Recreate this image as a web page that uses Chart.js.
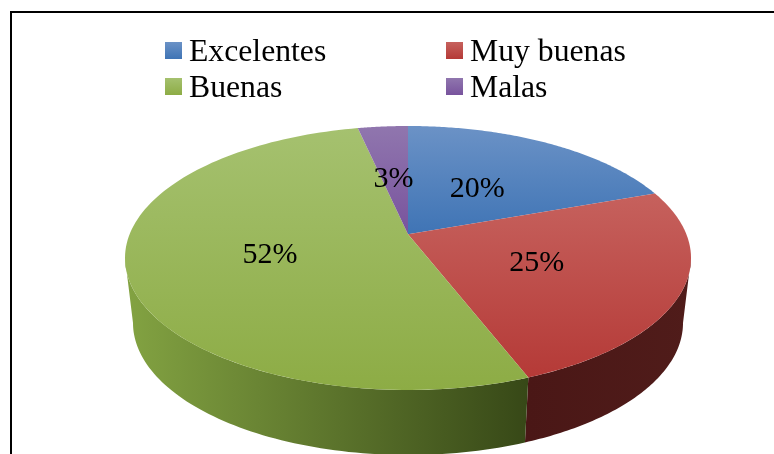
<!DOCTYPE html>
<html>
<head>
<meta charset="utf-8">
<script src="https://cdn.jsdelivr.net/npm/chart.js@4"></script>
<style>
    html, body { margin: 0; padding: 0; background: #fff; }
    canvas { display: block; }
</style>
</head>
<body>
<canvas id="chart" width="774" height="454"></canvas>
<script>
const categories = ["Excelentes", "Muy buenas", "Buenas", "Malas"]
const values = [19.5, 24.6, 52.4, 3.4]

// top face gradient, light to dark
const topColors = [
    ["#6b92c6", "#3f74b5"],
    ["#c6615d", "#b53a37"],
    ["#a5c16f", "#8dac45"],
    ["#9076ae", "#78539d"]
]
// side wall gradient, left to right
const wallColors = [
    ["#27486f", "#27486f"],
    ["#4a1716", "#501c1a"],
    ["#83a342", "#374817"],
    ["#4a3361", "#4a3361"]
]

// ellipse of the top face and of the bottom edge
const pie = { cx: 408, top: 258, bottom: 323, rxTop: 283, rxBottom: 275, ry: 132, tilt: -0.18 }
const labelNudge = [-4, 0, -4, -1]

// maps an arc angle to the tilted face, so the apex sits behind the ellipse centre
function project(angle, r, cy, rx) {
    const u = r * Math.cos(angle)
    const v = r * Math.sin(angle)
    const d = 1 + pie.tilt * v
    const a = rx * Math.sqrt(1 - pie.tilt * pie.tilt)
    return {
        x: pie.cx + a * u / d,
        y: cy + pie.ry * (v + pie.tilt) / d
    }
}

function fadeY(ctx, c, y1, y2) {
    const g = ctx.createLinearGradient(0, y1, 0, y2)
    g.addColorStop(0, c[0])
    g.addColorStop(1, c[1])
    return g
}

function drawWall(ctx, arc, colors) {
    const limit = Math.asin(-pie.tilt)
    const start = Math.max(arc.startAngle, limit)
    const end = Math.min(arc.endAngle, Math.PI - limit)
    if (end <= start) return

    ctx.beginPath()
    for (let i = 0; i <= 80; i++) {
        const p = project(start + (end - start) * i / 80, 1, pie.top, pie.rxTop)
        ctx.lineTo(p.x, p.y)
    }
    for (let i = 80; i >= 0; i--) {
        const p = project(start + (end - start) * i / 80, 1, pie.bottom, pie.rxBottom)
        ctx.lineTo(p.x, p.y)
    }
    ctx.closePath()

    const a = project(start, 1, pie.top, pie.rxTop).x
    const b = project(end, 1, pie.top, pie.rxTop).x
    const g = ctx.createLinearGradient(Math.min(a, b), 0, Math.max(a, b), 0)
    g.addColorStop(0, colors[0])
    g.addColorStop(1, colors[1])
    ctx.fillStyle = g
    ctx.fill()
}

function drawTop(ctx, arc, colors) {
    const apex = project(0, 0, pie.top, pie.rxTop)
    let minY = apex.y
    let maxY = apex.y

    ctx.beginPath()
    ctx.moveTo(apex.x, apex.y)
    for (let i = 0; i <= 120; i++) {
        const p = project(arc.startAngle + (arc.endAngle - arc.startAngle) * i / 120, 1, pie.top, pie.rxTop)
        ctx.lineTo(p.x, p.y)
        minY = Math.min(minY, p.y)
        maxY = Math.max(maxY, p.y)
    }
    ctx.closePath()
    ctx.fillStyle = fadeY(ctx, colors, minY, maxY)
    ctx.fill()
}

function drawLegend(ctx) {
    const columns = [165, 446]
    const rows = [42, 78]

    ctx.font = "31.7px 'Liberation Serif'"
    ctx.textAlign = "left"
    ctx.textBaseline = "alphabetic"

    categories.forEach((name, i) => {
        const x = columns[i % 2]
        const y = rows[Math.floor(i / 2)]
        ctx.fillStyle = fadeY(ctx, topColors[i], y, y + 17)
        ctx.fillRect(x, y, 17, 17)
        ctx.fillStyle = "#000"
        ctx.fillText(name, x + 24, y + 19)
    })
}

const pie3d = {
    id: "pie3d",
    beforeDatasetsDraw(chart) {
        const ctx = chart.ctx
        const arcs = chart.getDatasetMeta(0).data

        ctx.save()

        ctx.fillStyle = "#000"
        ctx.fillRect(10, 11, 764, 2)
        ctx.fillRect(10, 11, 2, 443)

        arcs.forEach((arc, i) => drawWall(ctx, arc, wallColors[i]))
        arcs.forEach((arc, i) => drawTop(ctx, arc, topColors[i]))

        ctx.font = "30px 'Liberation Serif'"
        ctx.textAlign = "center"
        ctx.textBaseline = "alphabetic"
        ctx.fillStyle = "#000"
        arcs.forEach((arc, i) => {
            const p = project((arc.startAngle + arc.endAngle) / 2, 0.49, pie.top, pie.rxTop)
            ctx.fillText(Math.round(values[i]) + "%", p.x + labelNudge[i], p.y + 10)
        })

        drawLegend(ctx)
        ctx.restore()

        // everything is drawn above, skip the flat arcs
        return false
    }
}

new Chart(document.getElementById("chart").getContext("2d"), {
    type: "pie",
    data: {
        labels: categories,
        datasets: [{
            data: values,
            backgroundColor: topColors.map(c => c[1]),
            borderWidth: 0
        }]
    },
    options: {
        responsive: false,
        animation: false,
        plugins: {
            legend: { display: false },
            tooltip: { enabled: false }
        }
    },
    plugins: [pie3d]
})
</script>
</body>
</html>
